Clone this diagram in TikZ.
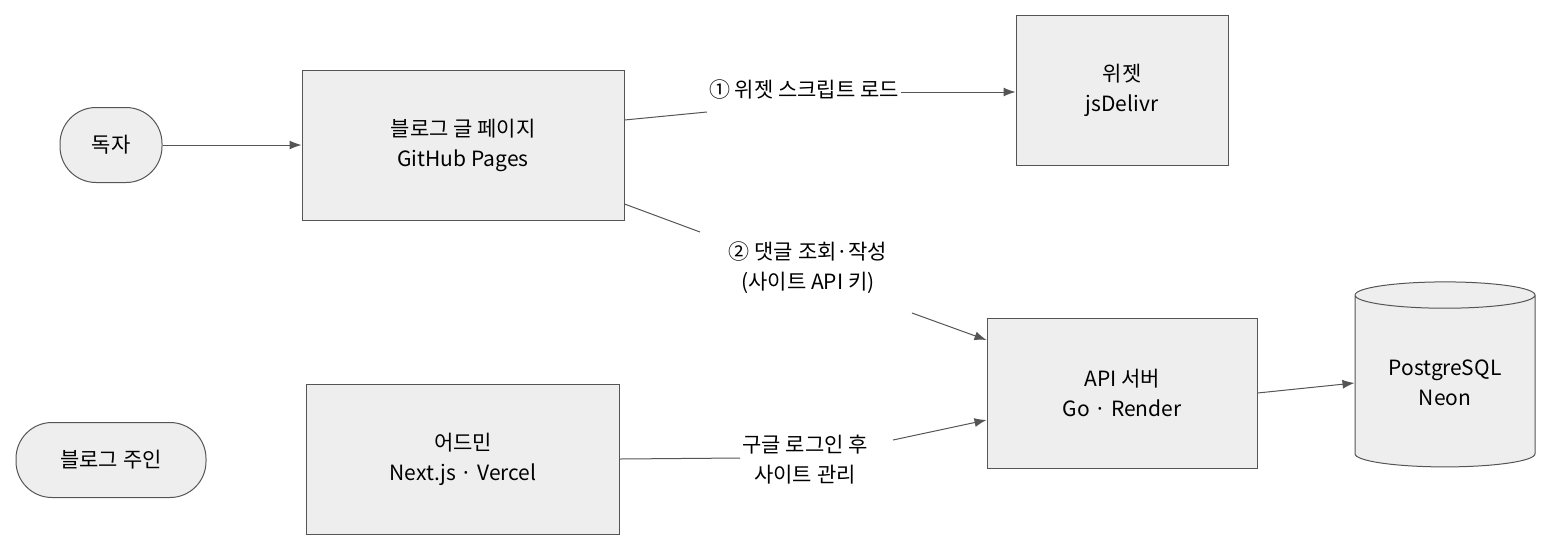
\documentclass[tikz,border=0pt]{standalone}
\usepackage{fontspec}
\setmainfont{Noto Sans CJK KR}
\usetikzlibrary{shapes.geometric,arrows.meta}
\definecolor{bx}{HTML}{EEEEEE}
\definecolor{ln}{HTML}{555555}
\begin{document}
\begin{tikzpicture}[x=1pt,y=-1pt,
  every node/.style={font=\fontsize{21}{30}\selectfont, align=center},
  box/.style={draw=ln, fill=bx, line width=1pt, minimum width=#1, minimum height=150},
  pill/.style={draw=ln, fill=bx, line width=1pt, rounded corners=36, minimum height=75},
  arr/.style={draw=ln, line width=1pt, -{Latex[length=12pt,width=9pt]}},
  seg/.style={draw=ln, line width=1pt},
  lbl/.style={fill=white, inner sep=2pt}]
\useasboundingbox (0,0) rectangle (1568,558);
\node[pill, minimum width=102] (reader) at (111,145) {독자};
\node[box=322] (blog) at (463,145) {블로그 글 페이지\\GitHub Pages};
\node[box=212] (widget) at (1122,90) {위젯\\jsDelivr};
\node[box=270] (api) at (1122,393) {API 서버\\Go · Render};
\node[cylinder, shape border rotate=90, aspect=0.22, draw=ln, fill=bx, line width=1pt,
  minimum width=180, minimum height=185] (db) at (1445,383) {PostgreSQL\\Neon};
\node[pill, minimum width=190] (owner) at (111,460) {블로그 주인};
\node[box=313] (admin) at (463,459) {어드민\\Next.js · Vercel};

\node[lbl] (l1) at (804,90) {① 위젯 스크립트 로드};
\node[lbl] (l2) at (808,268) {② 댓글 조회·작성\\(사이트 API 키)};
\node[lbl] (l3) at (805,460) {구글 로그인 후\\사이트 관리};

\draw[arr] (reader.east) -- (blog.west);
\draw[seg] (blog.east |- 0,120) coordinate (b1) -- (l1.west |- 0,112);
\draw[arr] (l1.east |- 0,92) -- (widget.west |- 0,92);
\draw[seg] (blog.east |- 0,204) -- (700,232);
\draw[arr] (912,313) -- (api.west |- 0,340);
\draw[seg] (admin.east |- 0,459) -- (l3.west |- 0,458);
\draw[arr] (893,440) -- (api.west |- 0,420);
\draw[arr] (api.east) -- (db.west);
\end{tikzpicture}
\end{document}
